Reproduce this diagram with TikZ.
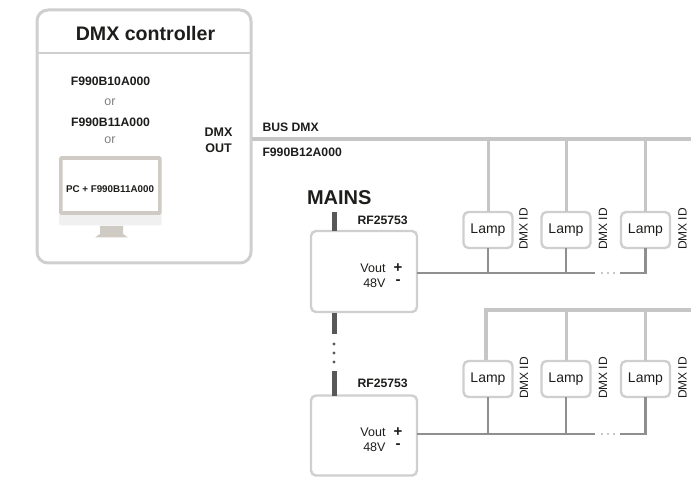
\documentclass[tikz,border=0pt]{standalone}
\usepackage{fontspec}
\setmainfont{Liberation Sans}
\definecolor{boxgray}{HTML}{CFCFCF}
\definecolor{busgray}{HTML}{C6C6C6}
\definecolor{powgray}{HTML}{8F8F8F}
\definecolor{maingray}{HTML}{58585A}
\definecolor{txt}{HTML}{1D1D1B}
\definecolor{frame}{HTML}{CFCAC4}
\definecolor{chin}{HTML}{F0F0F0}
\tikzset{
  x=1pt,y=-1pt,
  every node/.style={text=txt,inner sep=0pt,outer sep=0pt},
  panel/.style={draw=boxgray,line width=3pt,rounded corners=11pt,fill=white},
  psu/.style={draw=boxgray,line width=2.4pt,rounded corners=5pt,fill=white,minimum width=106pt},
  lampbox/.style={draw=boxgray,line width=2.4pt,rounded corners=5pt,fill=white,minimum width=49pt,minimum height=36pt,font=\fontsize{14}{16}\selectfont},
  bus/.style={draw=busgray,line width=3.6pt},
  drop/.style={draw=busgray,line width=3pt},
  pow/.style={draw=powgray,line width=2.2pt},
  mainsline/.style={draw=maingray,line width=5pt},
  bold/.style={font=\fontsize{12.2}{14}\selectfont\bfseries},
  small/.style={font=\fontsize{12.5}{14}\selectfont},
  idlabel/.style={rotate=90,font=\fontsize{12}{14}\selectfont,anchor=east},
  pdot/.style={circle,fill=powgray,minimum size=1.6pt},
  mdot/.style={circle,fill=maingray,minimum size=3.4pt},
  signmark/.style={align=center,font=\fontsize{15}{11.5}\selectfont\bfseries},
}
\begin{document}
\begin{tikzpicture}
\useasboundingbox (0,0) rectangle (691,478);
% bus DMX and lower bus
\coordinate (busstart) at (251,139);
\coordinate (busend) at (691,139);
\draw[bus] (busstart) -- (busend);
\coordinate (bus2end) at (691,310);
\coordinate (bus2start) at (486,310);
\coordinate (bus2down) at (486,360);
% controller
\node[panel,minimum width=214pt,minimum height=253pt] (ctrl) at (144,136.5) {};
\coordinate (hl) at (37,53);
\coordinate (hr) at (251,53);
\draw[draw=boxgray,line width=2.4pt] (hl) -- (hr);
\node[font=\fontsize{19.6}{22}\selectfont\bfseries] (title) at (145.5,33) {DMX controller};
\node[bold] (m1) at (110.5,81) {F990B10A000};
\node[small,text=gray] (or1) at (110,102) {or};
\node[bold] (m2) at (110.5,122) {F990B11A000};
\node[small,text=gray] (or2) at (110,140) {or};
\node[align=center,font=\fontsize{12.5}{16}\selectfont\bfseries] (out) at (218.5,140) {DMX\\OUT};
% monitor
\fill[chin,rounded corners=1.5pt] (59,212) rectangle (161.5,225.5);
\node[draw=frame,line width=3.6pt,fill=white,minimum width=99pt,minimum height=55pt,rounded corners=0.8pt] (screen) at (110.3,185.5) {};
\fill[frame] (100,226) -- (123,226) -- (123,234) -- (128,237.5) -- (95,237.5) -- (100,234) -- cycle;
\node[font=\fontsize{9.8}{11}\selectfont\bfseries] (pc) at (110,189) {PC + F990B11A000};
% bus labels
\node[bold,anchor=west] (busl) at (262.5,127.5) {BUS DMX};
\node[bold,anchor=west] (f12) at (262.5,152.5) {F990B12A000};
% PSUs
\node[psu,minimum height=81pt] (p1) at (364,271.5) {};
\node[psu,minimum height=80pt] (p2) at (364,435.5) {};
% mains
\node[font=\fontsize{20}{22}\selectfont\bfseries,anchor=west] (mains) at (307,197.5) {MAINS};
\coordinate (m0) at (334,212);
\coordinate (m1a) at (334,313);
\coordinate (m1b) at (334,334.5);
\coordinate (m2a) at (334,371.5);
\draw[mainsline] (m0) -- (m0|-p1.north);
\draw[mainsline] (m1a) -- (m1b);
\draw[mainsline] (m2a) -- (m2a|-p2.north);
\node[mdot] (d1) at (334,344) {};
\node[mdot] (d2) at (334,353) {};
\node[mdot] (d3) at (334,362) {};
\node[bold,anchor=west] (rf1) at (357.5,220) {RF25753};
\node[bold,anchor=west] (rf2) at (357.5,383.5) {RF25753};
% PSU labels
\foreach \n/\yy in {1/268,2/432}{
  \node[small,anchor=east] (vout\n) at (385.5,\yy) {Vout};
  \node[small,anchor=east] (volt\n) at (385.5,\yy+15) {48V};
  \node[signmark] (sign\n) at (398,\yy+6) {+\\-};
}
% row 1
\foreach \n/\xx/\ix in {1/488/523.5,2/566/603,3/645.5/682.5}{
  \node[lampbox] (a\n) at (\xx,230) {Lamp};
  \node[idlabel] (ia\n) at (\ix,208) {DMX ID};
  \coordinate (ta\n) at (\xx,139);
  \coordinate (ba\n) at (\xx,273);
  \draw[drop] (a\n.north) -- (ta\n);
}
% row 2
\foreach \n/\xx/\ix in {1/488/524,2/566/603,3/645.5/682.5}{
  \node[lampbox] (b\n) at (\xx,379) {Lamp};
  \node[idlabel] (ib\n) at (\ix,357) {DMX ID};
  \coordinate (tb\n) at (\xx,310);
  \coordinate (bb\n) at (\xx,434);
}
\draw[bus,line join=miter] (bus2end) -- (bus2start) -- (bus2down);
\draw[drop] (b2.north) -- (tb2);
\draw[drop] (b3.north) -- (tb3);
% power wiring
\foreach \r/\p/\yy in {a/p1/273,b/p2/434}{
  \coordinate (gap\r1) at (595,\yy);
  \coordinate (gap\r2) at (620,\yy);
  \draw[pow] (\p.east|-gap\r1) -- (gap\r1);
  \draw[pow,line join=miter] (gap\r2) -- (b\r3) -- (\r3.south);
  \draw[pow] (\r1.south) -- (b\r1);
  \draw[pow] (\r2.south) -- (b\r2);
  \node[pdot] at (602,\yy) {};
  \node[pdot] at (608,\yy) {};
  \node[pdot] at (614,\yy) {};
}
\end{tikzpicture}
\end{document}
